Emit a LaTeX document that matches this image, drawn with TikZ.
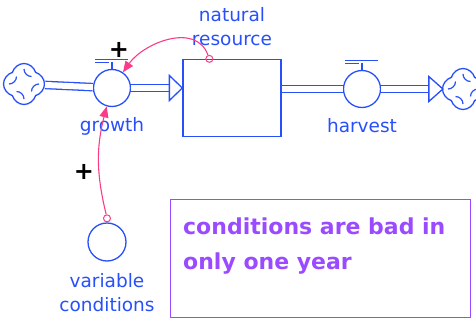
\documentclass[tikz,border=0pt]{standalone}
\usepackage{fontspec}
\setmainfont{DejaVu Sans}
\usepackage{xcolor}
\usetikzlibrary{shapes.symbols,arrows.meta,positioning}
\definecolor{flowblue}{RGB}{40,80,250}
\definecolor{linkpink}{RGB}{250,60,135}
\definecolor{notepurple}{RGB}{155,75,255}

\begin{document}
\begin{tikzpicture}[x=1pt,y=1pt,font=\fontsize{18.5}{24}\selectfont,
  every node/.style={text=flowblue},
  valve/.style={circle,draw=flowblue,line width=1.3pt,minimum size=37pt,inner sep=0pt},
  aux/.style={circle,draw=flowblue,line width=1.3pt,minimum size=38pt,inner sep=0pt},
  stock/.style={rectangle,draw=flowblue,line width=1.3pt,minimum width=98pt,minimum height=77pt},
  sink/.style={cloud,cloud puffs=4,aspect=1,shape border rotate=45,draw=flowblue,line width=1.3pt,
    minimum size=41pt,inner sep=0pt},
  pipe/.style={draw=flowblue,double=white,double distance=6pt,line width=1.3pt},
  link/.style={draw=linkpink,line width=1.1pt,-{Triangle[length=11pt,width=9pt]}},
  tail/.style={circle,draw=linkpink,line width=1pt,minimum size=7pt,inner sep=0pt},
  sign/.style={text=black,font=\fontsize{24}{24}\selectfont\bfseries},
  notebox/.style={draw=notepurple,line width=1.3pt,minimum width=300pt,minimum height=118pt}]
  \useasboundingbox (0,0) rectangle (476,322);
  % stock, flows and clouds
  \node[sink]  (src) at (24,238) {};
  \node[valve] (gv)  at (112,234) {};
  \node[stock] (stk) at (232,224) {};
  \node[valve] (hv)  at (362,233) {};
  \node[sink]  (snk) at (463,233) {};
  \node[aux]   (vc)  at (107,80) {};
  \foreach \c in {src,snk}
    \foreach \a in {0,90,180,270}
      \draw[flowblue,line width=1.2pt] (\c.center) ++(\a:15) arc[start angle=\a+90,end angle=\a+180,radius=7.5];
  \foreach \v in {gv,hv}{
    \draw[flowblue,line width=1.3pt] (\v.north) -- ++(0,7) ++(-17,2) -- ++(33,0)
      ++(-33,-3) -- ++(14,0);}
  \draw[pipe] (src) -- (gv);
  \draw[pipe,shorten >=13pt] (gv) -- (stk.west |- gv);
  \draw[flowblue,fill=white,line width=1.3pt] (stk.west |- gv) -- ++(-13,12.5) -- ++(0,-25) -- cycle;
  \draw[pipe] (stk.east |- hv) -- (hv);
  \draw[pipe,shorten >=14pt] (hv) -- ([xshift=1pt]snk.west);
  \draw[flowblue,fill=white,line width=1.3pt] ([xshift=1pt]snk.west) -- ++(-14,12.5) -- ++(0,-25) -- cycle;
  % labels
  \node[below=7pt of gv] (gvlabel) {growth};
  \node[below=7pt of hv] (hvlabel) {harvest};
  \node[above=10pt of stk,align=center] (stklabel) {natural\\resource};
  \node[below=8pt of vc,align=center] (vclabel) {variable\\conditions};
  % links
  \node[tail,above=0pt of vc] (vct) {};
  \node[tail] (stt) at ([xshift=27pt]stk.north west) {};
  \draw[link] (vct) to[bend left=14] (gv);
  \draw[link] (stt) to[out=110,in=55,looseness=1.05] (gv);
  \node[sign] (p1) at (119,272) {+};
  \node[sign] (p2) at (84,150) {+};
  % note
  \node[notebox,anchor=north west] (note) at (170,123) {};
  \node[anchor=north west,align=left,text=notepurple,inner sep=0pt,
    font=\fontsize{22}{35}\selectfont\bfseries] (notetext) at ([xshift=13pt,yshift=-19pt]note.north west)
    {conditions are bad in\\only one year};
\end{tikzpicture}
\end{document}
